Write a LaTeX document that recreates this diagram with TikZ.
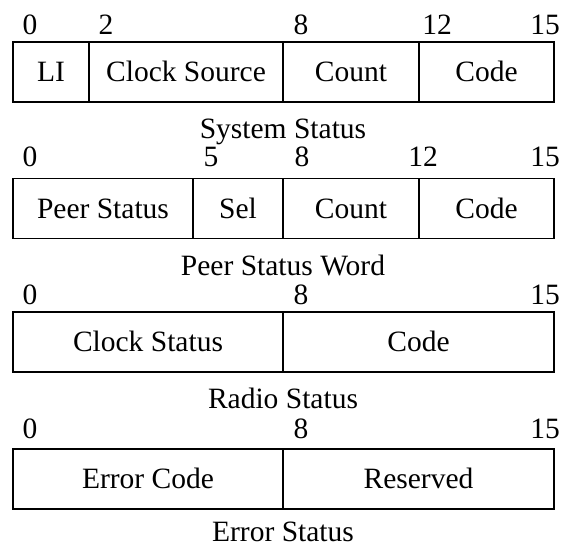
\documentclass[tikz,border=0pt]{standalone}
\usepackage{fontspec}
\setmainfont{Liberation Serif}
\begin{document}
\begin{tikzpicture}[x=1pt,y=-1pt,
  every node/.style={font=\fontsize{29.5}{35}\selectfont, inner sep=0pt, outer sep=0pt},
  field/.style={draw=black, line width=1.8pt, rectangle, minimum height=60pt,
                text height=19.5pt, text depth=0pt},
  bitnum/.style={anchor=base},
  caption/.style={anchor=base}]
\useasboundingbox (0,0) rectangle (561,546);
% Row 1: System Status
\node[field, minimum width=76pt]  (s1) at (51,72)  {LI};
\node[field, minimum width=194pt] (s2) at (186,72) {Clock Source};
\node[field, minimum width=136pt] (s3) at (351,72) {Count};
\node[field, minimum width=135pt] (s4) at (486.5,72) {Code};
\node[bitnum] (s0n) at (30,34) {0};
\node[bitnum] (s2n) at (106,34) {2};
\node[bitnum] (s8n) at (301,34) {8};
\node[bitnum] (s12n) at (437,34) {12};
\node[bitnum] (s15n) at (545,34) {15};
\node[caption] (scap) at (283,138) {System Status};
% Row 2: Peer Status Word
\node[field, minimum width=180pt] (p1) at (103,208.5) {Peer Status};
\node[field, minimum width=90pt]  (p2) at (238,208.5) {Sel};
\node[field, minimum width=136pt] (p3) at (351,208.5) {Count};
\node[field, minimum width=135pt] (p4) at (486.5,208.5) {Code};
\node[bitnum] (p0n) at (30,166) {0};
\node[bitnum] (p5n) at (211,166) {5};
\node[bitnum] (p8n) at (302,166) {8};
\node[bitnum] (p12n) at (423,166) {12};
\node[bitnum] (p15n) at (545,166) {15};
\node[caption] (pcap) at (283,275) {Peer Status Word};
% Row 3: Radio Status
\node[field, minimum width=270pt] (r1) at (148,342) {Clock Status};
\node[field, minimum width=271pt] (r2) at (418.5,342) {Code};
\node[bitnum] (r0n) at (30,304) {0};
\node[bitnum] (r8n) at (301,304) {8};
\node[bitnum] (r15n) at (545,304) {15};
\node[caption] (rcap) at (283,408) {Radio Status};
% Row 4: Error Status
\node[field, minimum width=270pt] (e1) at (148,479) {Error Code};
\node[field, minimum width=271pt] (e2) at (418.5,479) {Reserved};
\node[bitnum] (e0n) at (30,438) {0};
\node[bitnum] (e8n) at (301,438) {8};
\node[bitnum] (e15n) at (545,438) {15};
\node[caption] (ecap) at (283,541) {Error Status};
\end{tikzpicture}
\end{document}
